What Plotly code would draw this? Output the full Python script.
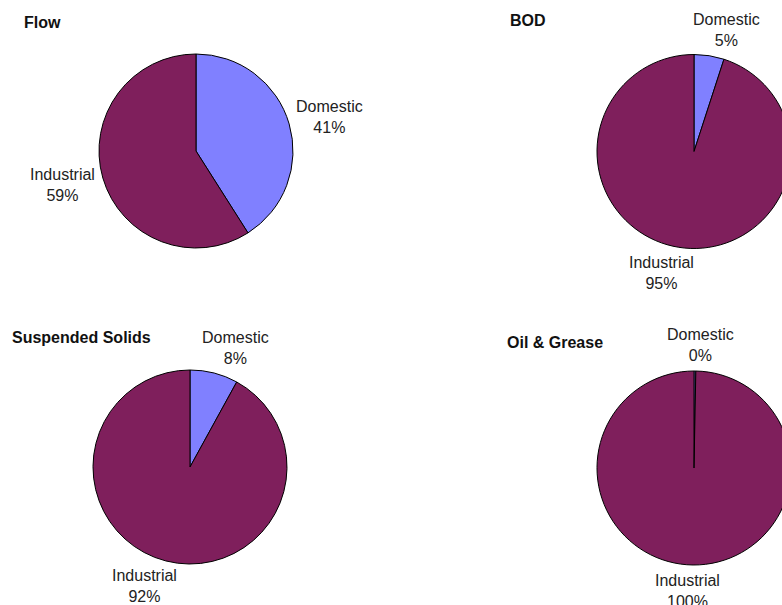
import math
import plotly.graph_objects as go

W, H = 800, 605   # figure is wider than the 782px window: right pies are cut off as in the reference

categories = ["Domestic", "Industrial"]
flow = [41, 59]
bod = [5, 95]
suspended_solids = [8, 92]
oil_grease = [0.3, 99.7]

titles = ["Flow", "BOD", "Suspended Solids", "Oil & Grease"]
series = [flow, bod, suspended_solids, oil_grease]

colors = ["#8080FF", "#7F1F5C"]
FONT = "Arial, Liberation Sans, sans-serif"

# pie centers / radii in pixels (layout only)
pies = [
    (196, 151, 97),
    (694, 151.5, 97),
    (190, 467, 97),
    (694, 468, 97),
]
title_pos = [
    (22, 23),
    (508, 20),
    (10, 337),
    (505, 342),
]
LABEL_GAP, HALF_W, HALF_H = 7, 34, 19

fig = go.Figure()
annotations = []
for vals, (cx, cy, r) in zip(series, pies):
    x0 = (cx - r) / W
    x1 = (cx + r) / W
    y0 = 1 - (cy + r) / H
    y1 = 1 - (cy - r) / H
    fig.add_trace(go.Pie(
        labels=categories,
        values=vals,
        sort=False,
        direction="clockwise",
        rotation=0,
        marker=dict(colors=colors, line=dict(color="#000000", width=1)),
        textinfo="none",
        domain=dict(x=[x0, x1], y=[y0, y1]),
        showlegend=False,
        hoverinfo="label+percent",
    ))
    # outside labels, placed from each slice's mid angle
    total = sum(vals)
    cum = 0
    for lab, v in zip(categories, vals):
        theta = math.radians(360 * (cum + v / 2) / total)
        cum += v
        ux, uy = math.sin(theta), -math.cos(theta)
        fx = math.copysign(abs(ux) ** 0.4, ux)
        lx = cx + ux * (r + LABEL_GAP) + fx * HALF_W
        ly = cy + uy * (r + LABEL_GAP) + uy * HALF_H
        annotations.append(dict(
            text="%s<br>%d%%" % (lab, round(100 * v / total)),
            x=lx / W, y=1 - ly / H, xref="paper", yref="paper",
            xanchor="center", yanchor="middle", showarrow=False, align="center",
            font=dict(family=FONT, size=16, color="#222222"),
        ))

for t, (tx, ty) in zip(titles, title_pos):
    annotations.append(dict(
        text="<b>%s</b>" % t,
        x=tx / W, y=1 - ty / H,
        xref="paper", yref="paper",
        xanchor="left", yanchor="middle",
        showarrow=False,
        font=dict(family=FONT, size=16, color="#111111"),
    ))

fig.update_layout(
    width=W, height=H,
    margin=dict(l=0, r=0, t=0, b=0),
    paper_bgcolor="white",
    plot_bgcolor="white",
    annotations=annotations,
    showlegend=False,
)

fig.write_html(
    "out.html",
    post_script="document.documentElement.style.overflow='hidden';document.body.style.overflow='hidden';document.body.style.margin='0';",
)
